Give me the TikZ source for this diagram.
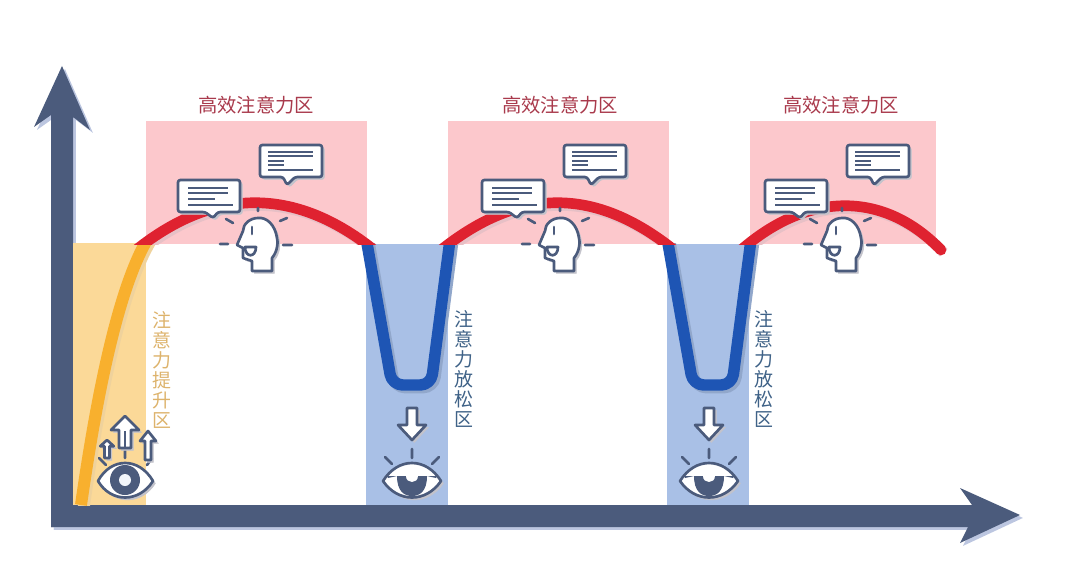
\documentclass[tikz,border=0pt]{standalone}
\usepackage{fontspec}
\newfontfamily\cjk{Noto Sans CJK SC}
\definecolor{navy}{HTML}{4B5B7C}
\definecolor{shadowblue}{HTML}{BCC6E0}
\definecolor{shadowgrey}{HTML}{A9A9B4}
\definecolor{amberzone}{HTML}{FBD998}
\definecolor{pinkzone}{HTML}{FCC8CC}
\definecolor{bluezone}{HTML}{A9C0E6}
\definecolor{amberline}{HTML}{F8B02E}
\definecolor{redline}{HTML}{DF2230}
\definecolor{blueline}{HTML}{1E55B4}
\definecolor{redtext}{HTML}{A93A4C}
\definecolor{ambertext}{HTML}{DDB36C}
\definecolor{bluetext}{HTML}{3F6287}
\tikzset{
  x=0.75pt, y=-0.75pt,
  offset shadow/.style={preaction={draw=#1, fill=#1, transform canvas={xshift=1.8pt, yshift=-1.8pt}}},
  axisarrow/.style={fill=navy, preaction={fill=shadowblue, transform canvas={xshift=2.2pt, yshift=-2.2pt}}},
  curveline/.style 2 args={line width=#1, line join=round, preaction={draw=#2, line width=#1, transform canvas={xshift=2pt, yshift=-2pt}}},
  iconline/.style={draw=navy, line width=2pt, line join=round},
  iconbody/.style={iconline, fill=white, offset shadow=shadowgrey!70},
  iconray/.style={draw=navy, line width=2pt, line cap=round},
  toplabel/.style={font=\cjk\fontsize{14.5pt}{16pt}\selectfont, text=redtext, inner sep=0pt},
  sidelabel/.style={font=\cjk\fontsize{14.2pt}{14.9pt}\selectfont, align=center, inner sep=0pt},
  bubble long/.pic={
    \draw[iconbody, rounded corners=1.8pt] (0,0) -- (62,0) -- (62,32) -- (40,32) -- (35,38) -- (27,32) -- (0,32) -- cycle;
    \draw[draw=navy, line width=1.4pt] (10,8) -- (50,8) (10,13) -- (50,13) (10,19) -- (37,19) (10,25) -- (55,25);
  },
  bubble high/.pic={
    \draw[iconbody, rounded corners=1.8pt] (0,0) -- (62,0) -- (62,32) -- (35,32) -- (27,40) -- (23,32) -- (0,32) -- cycle;
    \draw[draw=navy, line width=1.4pt] (8,7) -- (53,7) (8,11) -- (53,11) (8,16) -- (24,16) (8,20) -- (24,20) (8,25) -- (53,25);
  },
  head icon/.pic={
    \draw[iconray] (-38,-2) -- (-30,-2) (-32,-27) -- (-25,-23) (0,-38) -- (0,-35) (22,-25) -- (29,-28) (25,-1) -- (34,-1);
    \draw[iconbody] (-6,25) -- (14,25) -- (14,12) .. controls (20,5) and (20,-5) .. (19,-8)
      .. controls (17,-22) and (8,-29) .. (0,-28) .. controls (-8,-28) and (-15,-22) .. (-15,-15)
      -- (-21,-1) -- (-15,2) -- (-15,12) -- (-6,15) -- cycle;
    \draw[iconline, fill=white] (-13,1) -- (-2,1) .. controls (-2,12) and (-13,12) .. (-13,1) -- cycle;
    \draw[iconray] (-6,-19) -- (-6,-12);
  },
  arrow up/.pic={
    \draw[iconbody] (0,0) -- (14,14) -- (6,14) -- (6,32) -- (-6,32) -- (-6,14) -- (-14,14) -- cycle;
    \draw[draw=navy, line width=2pt] (0,15) -- (0,32);
  },
  arrow small/.pic={
    \draw[iconbody] (0,0) -- (8,10) -- (3,10) -- (3,29) -- (-3,29) -- (-3,10) -- (-8,10) -- cycle;
  },
  arrow down/.pic={
    \draw[iconbody] (0,0) -- (14,-15) -- (5,-15) -- (5,-32) -- (-5,-32) -- (-5,-15) -- (-14,-15) -- cycle;
  },
  eye open/.pic={
    \draw[iconray] (0,-32) -- (0,-22) (-26,-22) -- (-19,-15) (27,-22) -- (22,-15);
    \draw[iconbody] (-27,1) .. controls (-14,-23) and (14,-23) .. (28,1) .. controls (14,23) and (-14,23) .. (-27,1) -- cycle;
    \fill[navy] (0,0) circle[radius=15];
    \fill[white!85!bluezone] (0,0) circle[radius=6];
  },
  eye shut/.pic={
    \draw[iconray] (0,-32) -- (0,-23) (-27,-24) -- (-20,-17) (27,-24) -- (20,-17);
    \draw[iconbody] (-29,0) .. controls (-14,-24) and (14,-24) .. (29,0) .. controls (14,22) and (-14,22) .. (-29,0) -- cycle;
    \fill[navy] (-25,-5) -- (25,-5) -- (24,-3) -- (15,-5) .. controls (15,10) and (8,15) .. (0,15) .. controls (-8,15) and (-15,10) .. (-15,-5) -- (-24,-3) -- cycle;
    \fill[white] (-6,-5) -- (6,-5) .. controls (6,3) and (-6,3) .. (-6,-5) -- cycle;
  },
}
\begin{document}
\begin{tikzpicture}
\useasboundingbox (0,0) rectangle (1080,566);
% axes
\fill[axisarrow] (51,527) -- (51,115) -- (34,127) -- (62,66) -- (90,130) -- (73,117) -- (73,527) -- cycle;
\fill[axisarrow] (51,505) -- (972,505) -- (960,488) -- (1020,515) -- (960,543) -- (968,527) -- (51,527) -- cycle;
% zones
\fill[amberzone] (73,243) rectangle (146,505);
\foreach \xa/\xb in {146/367, 448/669, 750/936}
  \fill[pinkzone] (\xa,121) rectangle (\xb,244);
\foreach \xa in {366, 667}
  \fill[bluezone] (\xa,244) rectangle (\xa+82,505);
% curves
\begin{scope}
\clip (0,244) rectangle (1080,505);
\draw[curveline={9pt}{amberzone!85!shadowgrey}, amberline] (81,505) .. controls (96,400) and (118,285) .. (150,235);
\foreach \dx in {0, 301}
  \draw[curveline={8.6pt}{bluezone!75!navy}, blueline, rounded corners=8pt] (365+\dx,232) -- (392+\dx,385) -- (431+\dx,385) -- (451+\dx,232);
\end{scope}
\begin{scope}
\clip (0,0) rectangle (900,245) (900,0) rectangle (1080,300);
\draw[curveline={8pt}{pinkzone!75!shadowgrey}, redline] (136,250) .. controls (215,187) and (295,187) .. (374,250);
\draw[curveline={8pt}{pinkzone!75!shadowgrey}, redline] (441,250) .. controls (520,187) and (595,187) .. (674,250);
\draw[curveline={8pt}{pinkzone!75!shadowgrey}, redline, line cap=round] (741,250) .. controls (810,190) and (885,192) .. (941,250);
\end{scope}
% icons
\foreach \dx/\hx in {0/258, 304/560, 587/842} {
  \pic at (\hx,246) {head icon};
  \pic at (178+\dx,180) {bubble long};
  \pic at (260+\dx,145) {bubble high};
}
\pic at (125,480) {eye open};
\pic at (125,416) {arrow up};
\pic[xscale=.85, yscale=.62] at (107,440) {arrow small};
\pic at (148,431) {arrow small};
\foreach \xa in {412, 709} {
  \pic at (\xa,481) {eye shut};
  \pic at (\xa,440) {arrow down};
}
% labels
\node[toplabel] (focusa) at (256,105) {高效注意力区};
\node[toplabel] (focusb) at (560,105) {高效注意力区};
\node[toplabel] (focusc) at (841,105) {高效注意力区};
\node[sidelabel, text=ambertext] (rise) at (162,370) {注\\意\\力\\提\\升\\区};
\node[sidelabel, text=bluetext] (resta) at (464,369) {注\\意\\力\\放\\松\\区};
\node[sidelabel, text=bluetext] (restb) at (764,369) {注\\意\\力\\放\\松\\区};
\end{tikzpicture}
\end{document}
